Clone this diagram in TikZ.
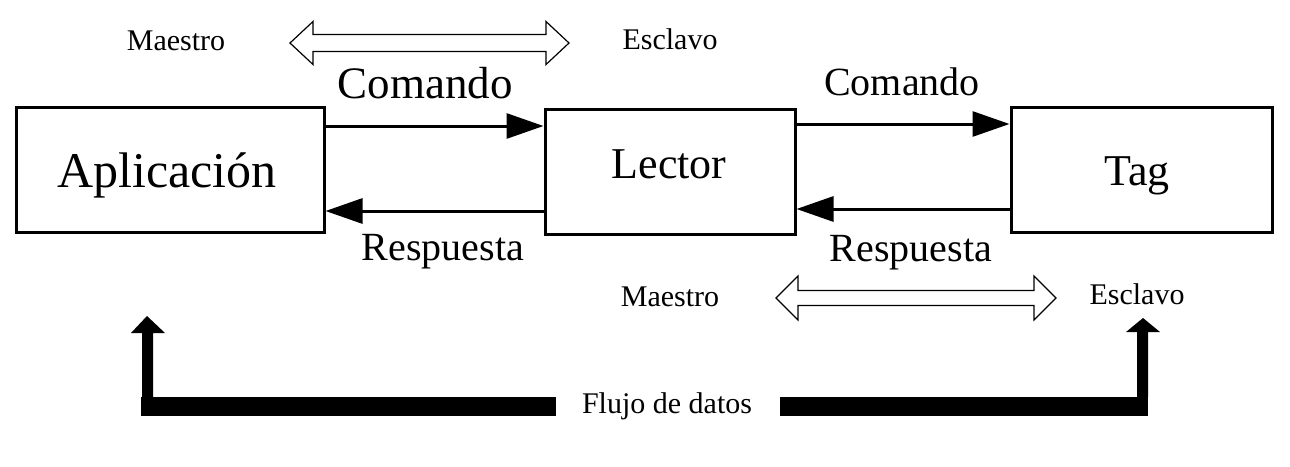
\documentclass[tikz,border=0pt]{standalone}
\usepackage{fontspec}
\setmainfont{Liberation Serif}
\usetikzlibrary{arrows.meta}
\begin{document}
\begin{tikzpicture}[x=1pt,y=-1pt,
  box/.style={draw, line width=3pt, inner sep=0pt},
  conn/.style={line width=3pt, -{Triangle[length=37pt,width=25pt]}},
  lbl/.style={anchor=base, inner sep=0pt},
  huge/.style={lbl, font=\fontsize{50}{60}\selectfont},
  mid/.style={lbl, font=\fontsize{44}{52}\selectfont},
  medium/.style={lbl, font=\fontsize{40}{48}\selectfont},
  small/.style={lbl, font=\fontsize{30}{36}\selectfont},
  dbl/.style={draw, line width=1.2pt, fill=white, line join=miter},
  flow/.style={fill=black}
]
\useasboundingbox (0,0) rectangle (1290,466);

% boxes
\node[box, minimum width=308pt, minimum height=125pt] (A) at (170,169.5) {};
\node[box, minimum width=250pt, minimum height=125pt] (L) at (670,171.5) {};
\node[box, minimum width=261pt, minimum height=125pt] (T) at (1141.5,169.5) {};
\node[huge] (At) at (167,187) {Aplicación};
\node[mid] (Lt) at (669,178) {Lector};
\node[mid] (Tt) at (1137,185) {Tag};

% connectors
\coordinate (c1) at (0,126);
\coordinate (r1) at (0,211);
\coordinate (c2) at (0,124);
\coordinate (r2) at (0,209);
\draw[conn] (A.east |- c1) -- (L.west |- c1);
\draw[conn] (L.west |- r1) -- (A.east |- r1);
\draw[conn] (L.east |- c2) -- (T.west |- c2);
\draw[conn] (T.west |- r2) -- (L.east |- r2);

\node[font=\fontsize{45}{54}\selectfont, anchor=base, inner sep=0pt] (C1) at (425,98) {Comando};
\node[medium] (C2) at (902,95) {Comando};
\node[medium] (R1) at (443,260) {Respuesta};
\node[medium] (R2) at (911,261) {Respuesta};

% master/slave labels
\node[small] (M1) at (176,50) {Maestro};
\node[small] (E1) at (670,49) {Esclavo};
\node[small] (M2) at (670,306) {Maestro};
\node[small] (E2) at (1137,304) {Esclavo};

% double open arrows
\draw[dbl] (290,43) -- (313,21.5) -- (313,34.5) -- (546,34.5) -- (546,21.5) -- (569,43)
  -- (546,64.5) -- (546,51.5) -- (313,51.5) -- (313,64.5) -- cycle;
\draw[dbl] (776,298) -- (798,276) -- (798,290.5) -- (1034,290.5) -- (1034,276) -- (1056,298)
  -- (1034,320) -- (1034,305.5) -- (798,305.5) -- (798,320) -- cycle;

% data flow
\node[small] (F) at (667,413) {Flujo de datos};
\fill[flow] (556,397) -- (141,397) -- (141,416) -- (556,416) -- cycle;
\fill[flow] (142,397) -- (142,333) -- (131,333) -- (147,316) -- (165,333) -- (153,333) -- (153,397) -- cycle;
\fill[flow] (780,397) -- (1148,397) -- (1148,416) -- (780,416) -- cycle;
\fill[flow] (1137,397) -- (1137,332) -- (1126,332) -- (1143,318) -- (1160,332) -- (1148,332) -- (1148,397) -- cycle;
\end{tikzpicture}
\end{document}
